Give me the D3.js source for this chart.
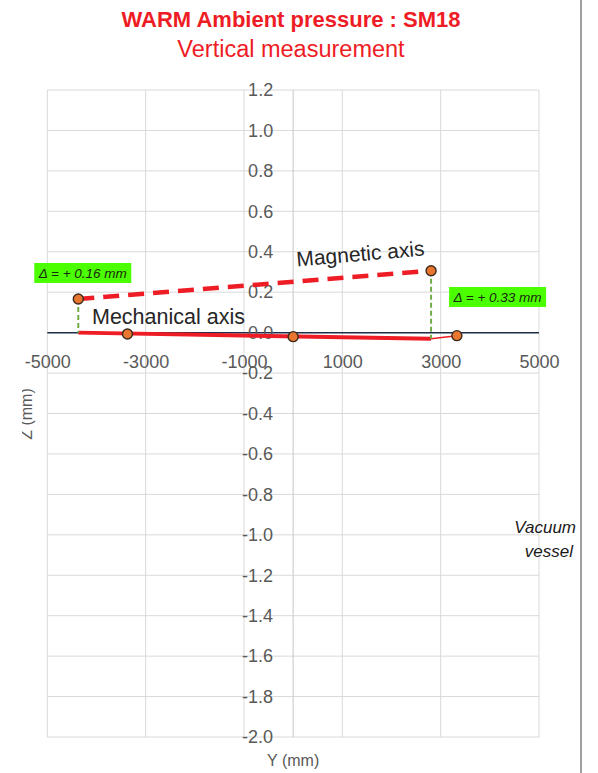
<!DOCTYPE html>
<html>
<head>
<meta charset="utf-8">
<script src="https://cdn.jsdelivr.net/npm/d3@7"></script>
<style>
  body { margin: 0; background: #fff; }
  svg { display: block; font-family: "Liberation Sans", Arial, sans-serif; }
  .axis text { fill: #595959; font-size: 18px; }
  .axis path, .axis line { display: none; }
</style>
</head>
<body>
<div id="chart"></div>
<script>
// Y position (mm) along the vessel, Z offset (mm)
const magneticY = [-4370, 2805];
const magneticZ = [0.166, 0.306];
const mechanicalY = [-4370, 2805];
const mechanicalZ = [0.0, -0.03];
const tailY = [2805, 3330];
const tailZ = [-0.03, -0.015];
const pointY = [-3370, 0, 3330];
const pointZ = [-0.007, -0.02, -0.015];
const xTicks = [-5000, -3000, -1000, 1000, 3000, 5000];
const yTicks = [1.2, 1.0, 0.8, 0.6, 0.4, 0.2, 0.0, -0.2, -0.4, -0.6, -0.8, -1.0, -1.2, -1.4, -1.6, -1.8, -2.0];
const deltaLabels = ['Δ = + 0.16 mm', 'Δ = + 0.33 mm'];

const width = 598, height = 773;
const red = '#ee1c25';
const green = '#70ad47';

const svg = d3.select('#chart').append('svg')
  .attr('width', width)
  .attr('height', height)
  .attr('viewBox', `0 0 ${width} ${height}`);

const x = d3.scaleLinear().domain([-5000, 5000]).range([47.3, 539]);
const y = d3.scaleLinear().domain([-2, 1.2]).range([737, 90]);

// titles
svg.append('text').attr('x', 291).attr('y', 27).attr('text-anchor', 'middle')
  .attr('font-size', 22).attr('font-weight', 'bold').attr('fill', red)
  .text('WARM Ambient pressure : SM18');
svg.append('text').attr('x', 291).attr('y', 57).attr('text-anchor', 'middle')
  .attr('font-size', 23.5).attr('fill', red)
  .text('Vertical measurement');

// gridlines
const grid = svg.append('g').attr('stroke', '#d9d9d9').attr('stroke-width', 1);
grid.selectAll('.hg').data(yTicks).enter().append('line')
  .attr('x1', x(-5000)).attr('x2', x(5000))
  .attr('y1', d => y(d)).attr('y2', d => y(d));
grid.selectAll('.vg').data(xTicks).enter().append('line')
  .attr('x1', d => x(d)).attr('x2', d => x(d))
  .attr('y1', y(1.2)).attr('y2', y(-2));

// vertical axis line at Y = 0
svg.append('line')
  .attr('x1', x(0)).attr('x2', x(0)).attr('y1', y(1.2)).attr('y2', y(-2))
  .attr('stroke', '#c8c8c8').attr('stroke-width', 1);

// horizontal axis line at Z = 0
svg.append('line')
  .attr('x1', x(-5000)).attr('x2', x(5000)).attr('y1', y(0)).attr('y2', y(0))
  .attr('stroke', '#1f2d4a').attr('stroke-width', 1.5);

// tick labels
svg.append('g').attr('class', 'axis')
  .attr('transform', `translate(${x(0)},0)`)
  .call(d3.axisLeft(y).tickValues(yTicks).tickSize(0).tickPadding(20).tickFormat(d => d.toFixed(1)));
svg.append('g').attr('class', 'axis')
  .attr('transform', `translate(0,${y(0)})`)
  .call(d3.axisBottom(x).tickValues(xTicks).tickSize(0).tickPadding(22.5).tickFormat(d => String(d)));

const line = d3.line().x(d => x(d[0])).y(d => y(d[1]));

// mechanical axis
svg.append('path').datum(d3.zip(mechanicalY, mechanicalZ))
  .attr('d', line).attr('fill', 'none').attr('stroke', red).attr('stroke-width', 4);
svg.append('path').datum(d3.zip(tailY, tailZ))
  .attr('d', line).attr('fill', 'none').attr('stroke', red).attr('stroke-width', 1.5);

// magnetic axis
svg.append('path').datum(d3.zip(magneticY, magneticZ))
  .attr('d', line).attr('fill', 'none').attr('stroke', red).attr('stroke-width', 4.5)
  .attr('stroke-dasharray', '16,9');

// offsets between axes
const offsets = [[magneticY[0], magneticZ[0], mechanicalZ[0]], [magneticY[1], magneticZ[1], mechanicalZ[1]]];
svg.selectAll('.delta').data(offsets).enter().append('line')
  .attr('x1', d => x(d[0])).attr('x2', d => x(d[0]))
  .attr('y1', d => y(d[1])).attr('y2', d => y(d[2]))
  .attr('stroke', green).attr('stroke-width', 2).attr('stroke-dasharray', '5,3');

// markers
const markers = d3.zip(magneticY, magneticZ).concat(d3.zip(pointY, pointZ));
svg.selectAll('.pt').data(markers).enter().append('circle')
  .attr('cx', d => x(d[0])).attr('cy', d => y(d[1])).attr('r', 5)
  .attr('fill', '#e8762e').attr('stroke', '#3b2a1e').attr('stroke-width', 1.4);

// delta labels
const labelPos = [[x(magneticY[0]) - 44, 263], [x(magneticY[1]) + 18, 287]];
labelPos.forEach((p, i) => {
  svg.append('rect').attr('x', p[0]).attr('y', p[1]).attr('width', 97).attr('height', 20)
    .attr('fill', '#4cff00');
  svg.append('text').attr('x', p[0] + 48.5).attr('y', p[1] + 15).attr('text-anchor', 'middle')
    .attr('font-size', 13.5).attr('font-style', 'italic').attr('fill', '#1a2a10')
    .text(deltaLabels[i]);
});

// series labels
svg.append('text').attr('transform', 'translate(361,261) rotate(-5)')
  .attr('text-anchor', 'middle').attr('font-size', 21).attr('fill', '#262626')
  .text('Magnetic axis');
svg.append('text').attr('x', 92).attr('y', 324)
  .attr('font-size', 21.5).attr('fill', '#262626')
  .text('Mechanical axis');

// vacuum vessel note
const vv = svg.append('text').attr('text-anchor', 'end').attr('font-size', 17)
  .attr('font-style', 'italic').attr('fill', '#1a1a1a');
vv.append('tspan').attr('x', 576).attr('y', 533).text('Vacuum');
vv.append('tspan').attr('x', 573).attr('y', 557).text('vessel');

// axis titles
svg.append('text').attr('x', x(0)).attr('y', 766).attr('text-anchor', 'middle')
  .attr('font-size', 16).attr('fill', '#595959').text('Y (mm)');
// the left side of the Z title is cut off in the original frame
svg.append('clipPath').attr('id', 'zclip')
  .append('rect').attr('x', 22).attr('y', 0).attr('width', 100).attr('height', height);
svg.append('g').attr('clip-path', 'url(#zclip)')
  .append('text')
  .attr('transform', 'translate(32,414) rotate(-90)')
  .attr('text-anchor', 'middle').attr('font-size', 16).attr('fill', '#595959')
  .text('Z (mm)');

// right frame edge
svg.append('line').attr('x1', 581).attr('x2', 581).attr('y1', 0).attr('y2', height)
  .attr('stroke', '#808080').attr('stroke-width', 1.5);
</script>
</body>
</html>
